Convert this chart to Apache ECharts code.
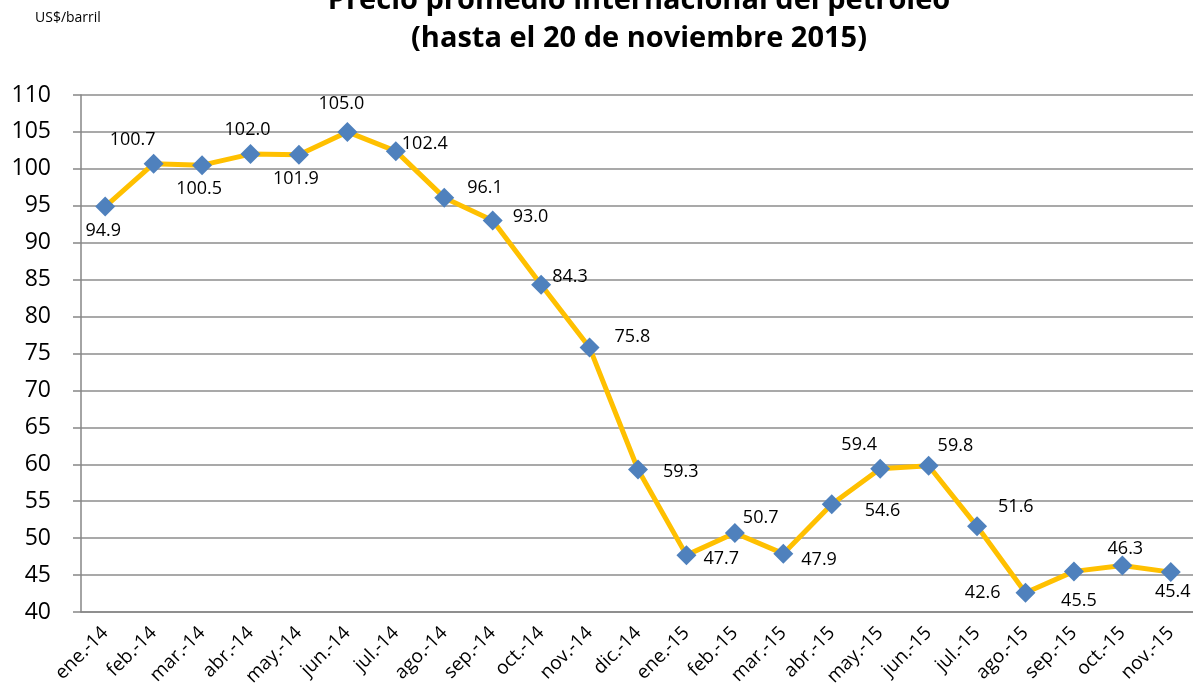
<!DOCTYPE html>
<html>
<head>
<meta charset="utf-8">
<script src="https://cdn.jsdelivr.net/npm/echarts@6/dist/echarts.min.js"></script>
<style>
  html, body { margin: 0; padding: 0; background: #fff; }
  #chart { width: 1193px; height: 690px; }
</style>
</head>
<body>
<div id="chart"></div>
<script>
// months, jan 2014 .. nov 2015
const months = [
  'ene.-14', 'feb.-14', 'mar.-14', 'abr.-14', 'may.-14', 'jun.-14',
  'jul.-14', 'ago.-14', 'sep.-14', 'oct.-14', 'nov.-14', 'dic.-14',
  'ene.-15', 'feb.-15', 'mar.-15', 'abr.-15', 'may.-15', 'jun.-15',
  'jul.-15', 'ago.-15', 'sep.-15', 'oct.-15', 'nov.-15'
];

// average international oil price, US$/barrel
const prices = [
  94.9, 100.7, 100.5, 102.0, 101.9, 105.0,
  102.4, 96.1, 93.0, 84.3, 75.8, 59.3,
  47.7, 50.7, 47.9, 54.6, 59.4, 59.8,
  51.6, 42.6, 45.5, 46.3, 45.4
];

// where each data label sits (as in the original excel chart)
const labelPlace = [
  ['bottom', [-2, 0]], ['top', [-21, 0]], ['bottom', [-3, 0]], ['top', [-3, 0]],
  ['bottom', [-3, 0]], ['top', [-6, -4]], ['right', [-9, -7]], ['right', [8, -10]],
  ['right', [5, -4]], ['right', [-4, -8]], ['right', [10, -11]], ['right', [10, 2]],
  ['right', [2, 4]], ['right', [-7, -15]], ['right', [3, 6]], ['right', [18, 7]],
  ['top', [-21, 0]], ['right', [-6, -20]], ['right', [6, -19]], ['left', [-10, 0]],
  ['bottom', [5, 5]], ['top', [3, 7]], ['bottom', [2, -4]]
];

const font = '"Open Sans", "Liberation Sans", sans-serif';

const chart = echarts.init(document.getElementById('chart'));

const seriesData = prices.map((v, i) => ({
  value: v,
  label: { position: labelPlace[i][0], offset: labelPlace[i][1] }
}));

chart.setOption({
  animation: false,
  title: {
    text: 'Precio promedio internacional del petróleo\n(hasta el 20 de noviembre 2015)',
    left: 639,
    top: -18,
    padding: 0,
    textAlign: 'center',
    textStyle: {
      fontFamily: font,
      fontSize: 29,
      fontWeight: 'bold',
      lineHeight: 38,
      color: '#000'
    }
  },
  graphic: [{
    type: 'text',
    left: 35,
    top: 11,
    style: { text: 'US$/barril', font: '14px ' + font, fill: '#000' }
  }],
  grid: {
    left: 81, width: 1114, top: 95, bottom: 78,
    containLabel: false, outerBoundsMode: 'none'
  },
  xAxis: {
    type: 'category',
    data: months,
    boundaryGap: true,
    axisLine: { lineStyle: { color: '#868686', width: 1.5 } },
    axisTick: { length: 6, lineStyle: { color: '#868686', width: 1.5 } },
    axisLabel: {
      rotate: 45,
      interval: 0,
      margin: 18,
      fontFamily: font,
      fontSize: 19,
      color: '#000'
    }
  },
  yAxis: {
    type: 'value',
    min: 40,
    max: 110,
    interval: 5,
    axisLine: { show: true, lineStyle: { color: '#868686', width: 1.5 } },
    axisTick: { show: true, length: 8, lineStyle: { color: '#868686', width: 1.5 } },
    axisLabel: { margin: 30, fontFamily: font, fontSize: 23, color: '#000' },
    splitLine: { lineStyle: { color: '#8c8c8c', width: 1.5 } }
  },
  series: [{
    type: 'line',
    data: seriesData,
    symbol: 'diamond',
    symbolSize: 20,
    lineStyle: { color: '#FFC000', width: 5 },
    itemStyle: { color: '#4F81BD' },
    label: {
      show: true,
      distance: 5,
      formatter: p => p.value.toFixed(1),
      fontFamily: font,
      fontSize: 18,
      color: '#000'
    }
  }]
});
</script>
</body>
</html>
